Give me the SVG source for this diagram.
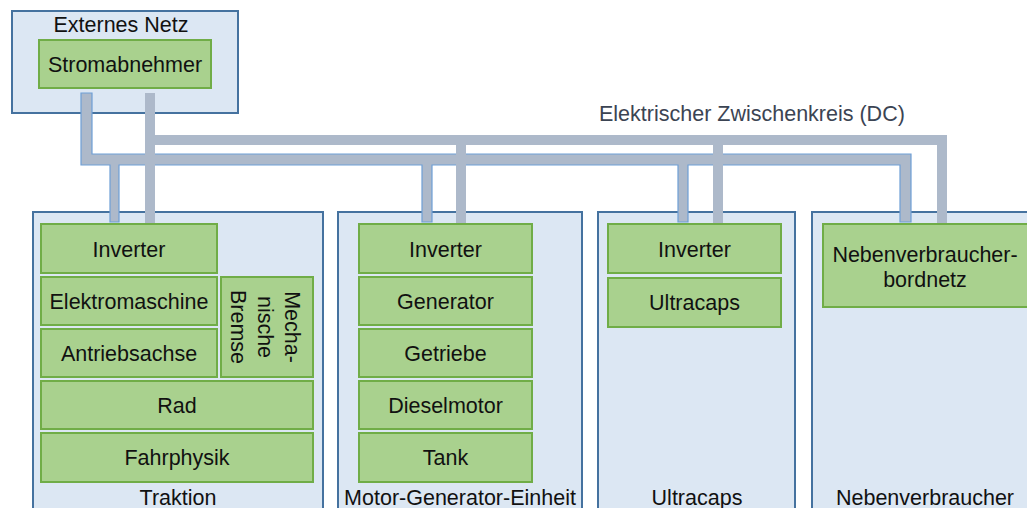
<svg xmlns="http://www.w3.org/2000/svg" width="1027" height="508" viewBox="0 0 1027 508">
  <style>
    .box { fill: #dce7f3; stroke: #45729f; stroke-width: 2; }
    .node { fill: #a9d18e; stroke: #70ad47; stroke-width: 2; }
    .lbl { font-family: "Liberation Sans", Arial, sans-serif; font-size: 21.5px; fill: #111; text-anchor: middle; }
    .bus { fill: #adb9ca; }
    .busA { fill: #adb9ca; stroke: #6e9fd6; stroke-width: 1.2; }
    .bustext { font-family: "Liberation Sans", Arial, sans-serif; font-size: 21.5px; fill: #3b4453; }
  </style>

  <!-- external grid with pantograph -->
  <g id="externes-netz">
    <rect class="box" x="12" y="11" width="226" height="102"/>
    <text class="lbl" x="121" y="32">Externes Netz</text>
  </g>
  <g id="stromabnehmer">
    <rect class="node" x="39" y="40" width="172" height="48"/>
    <text class="lbl" x="125" y="72">Stromabnehmer</text>
  </g>

  <!-- subsystem containers -->
  <g id="traktion">
    <rect class="box" x="33" y="212" width="290" height="310"/>
    <text class="lbl" x="178" y="505">Traktion</text>
  </g>
  <g id="motor-generator-einheit">
    <rect class="box" x="338" y="212" width="244" height="310"/>
    <text class="lbl" x="460" y="505">Motor-Generator-Einheit</text>
  </g>
  <g id="ultracaps">
    <rect class="box" x="598" y="212" width="197" height="310"/>
    <text class="lbl" x="697" y="505">Ultracaps</text>
  </g>
  <g id="nebenverbraucher">
    <rect class="box" x="812" y="212" width="230" height="310"/>
    <text class="lbl" x="925" y="505">Nebenverbraucher</text>
  </g>

  <!-- traction components -->
  <g id="t-inverter">
    <rect class="node" x="41" y="224" width="176" height="49"/>
    <text class="lbl" x="129" y="256.5">Inverter</text>
  </g>
  <g id="t-elektromaschine">
    <rect class="node" x="41" y="277" width="176" height="48"/>
    <text class="lbl" x="129" y="308.5">Elektromaschine</text>
  </g>
  <g id="t-antriebsachse">
    <rect class="node" x="41" y="329" width="176" height="48"/>
    <text class="lbl" x="129" y="360.5">Antriebsachse</text>
  </g>
  <g id="t-bremse">
    <rect class="node" x="221" y="277" width="92" height="100"/>
    <g transform="translate(267 327) rotate(90)">
      <text class="lbl" x="0" y="-18">Mecha-</text>
      <text class="lbl" x="0" y="9">nische</text>
      <text class="lbl" x="0" y="36">Bremse</text>
    </g>
  </g>
  <g id="t-rad">
    <rect class="node" x="41" y="381" width="272" height="48"/>
    <text class="lbl" x="177" y="412.5">Rad</text>
  </g>
  <g id="t-fahrphysik">
    <rect class="node" x="41" y="433" width="272" height="49"/>
    <text class="lbl" x="177" y="465">Fahrphysik</text>
  </g>

  <!-- motor-generator components -->
  <g id="m-inverter">
    <rect class="node" x="359" y="224" width="173" height="49"/>
    <text class="lbl" x="445.5" y="256.5">Inverter</text>
  </g>
  <g id="m-generator">
    <rect class="node" x="359" y="277" width="173" height="48"/>
    <text class="lbl" x="445.5" y="308.5">Generator</text>
  </g>
  <g id="m-getriebe">
    <rect class="node" x="359" y="329" width="173" height="48"/>
    <text class="lbl" x="445.5" y="360.5">Getriebe</text>
  </g>
  <g id="m-dieselmotor">
    <rect class="node" x="359" y="381" width="173" height="48"/>
    <text class="lbl" x="445.5" y="412.5">Dieselmotor</text>
  </g>
  <g id="m-tank">
    <rect class="node" x="359" y="433" width="173" height="49"/>
    <text class="lbl" x="445.5" y="465">Tank</text>
  </g>

  <!-- ultracap components -->
  <g id="u-inverter">
    <rect class="node" x="608" y="224" width="173" height="49"/>
    <text class="lbl" x="694.5" y="256.5">Inverter</text>
  </g>
  <g id="u-ultracaps">
    <rect class="node" x="608" y="278" width="173" height="49"/>
    <text class="lbl" x="694.5" y="310">Ultracaps</text>
  </g>

  <!-- auxiliary consumers -->
  <g id="n-bordnetz">
    <rect class="node" x="823" y="224" width="215" height="83"/>
    <text class="lbl" x="925" y="262">Nebenverbraucher-</text>
    <text class="lbl" x="925" y="287">bordnetz</text>
  </g>

  <!-- DC link bus bars -->
  <g id="connectors">
    <path class="busA" d="M81,93 H92 V154 H911 V222 H900 V165 H688 V222 H678 V165 H432 V222 H422 V165 H119 V222 H110 V165 H81 Z"/>
    <path class="bus" d="M145,93 H155 V135 H947 V223 H937 V145 H723 V223 H713 V145 H466 V223 H456 V145 H155 V223 H145 Z"/>
    <text class="bustext" x="599" y="121">Elektrischer Zwischenkreis (DC)</text>
  </g>
</svg>
